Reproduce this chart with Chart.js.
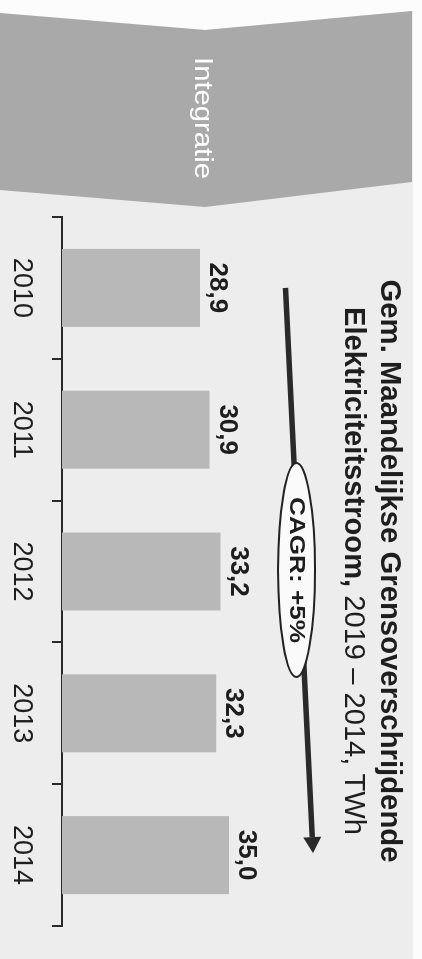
<!DOCTYPE html>
<html>
<head>
<meta charset="utf-8">
<script src="https://cdn.jsdelivr.net/npm/chart.js@4.4.0/dist/chart.umd.min.js"></script>
<style>
html, body { margin: 0; padding: 0; background: #fcfcfc; overflow: hidden; }
/* the chart is built lying down (959x422) and turned a quarter clockwise */
#wrap { position: absolute; left: 0; top: 0; width: 959px; height: 422px;
        transform-origin: 0 0; transform: translate(422px, 0) rotate(90deg); }
</style>
</head>
<body>
<div id="wrap"><canvas id="grens"></canvas></div>
<script>
var years = ['2010', '2011', '2012', '2013', '2014'];
var values = [28.9, 30.9, 33.2, 32.3, 35.0];
var valueLabels = ['28,9', '30,9', '33,2', '32,3', '35,0'];
var titleLine1 = 'Gem. Maandelijkse Grensoverschrijdende';
var titleLine2Bold = 'Elektriciteitsstroom,';
var titleLine2Rest = ' 2019 \u2013 2014, TWh';
var cagrText = 'CAGR: +5%';
var bannerText = 'Integratie';

var FONT = '"Liberation Sans", Arial, sans-serif';
Chart.defaults.font.family = FONT;

function fitText(ctx, text, cx, baseY, font, width, color) {
    ctx.save();
    ctx.font = font;
    var w = ctx.measureText(text).width;
    ctx.translate(cx, baseY);
    ctx.scale(width / w, 1);
    ctx.fillStyle = color;
    ctx.textAlign = 'center';
    ctx.textBaseline = 'alphabetic';
    ctx.fillText(text, 0, 0);
    ctx.restore();
}

var backdrop = {
    id: 'backdrop',
    beforeDraw: function(chart) {
        var c = chart.ctx;
        c.save();
        c.fillStyle = '#fcfcfc';
        c.fillRect(0, 0, chart.width, chart.height);
        // grey page
        c.fillStyle = '#ededed';
        c.beginPath();
        c.moveTo(13, 422); c.lineTo(30, 217); c.lineTo(11, 9);
        c.lineTo(959, 9); c.lineTo(959, 422); c.closePath();
        c.fill();
        // chevron banner
        c.fillStyle = '#a9a9a9';
        c.beginPath();
        c.moveTo(13, 422); c.lineTo(30, 217); c.lineTo(11, 10);
        c.lineTo(182, 10); c.lineTo(207, 217); c.lineTo(190, 422); c.closePath();
        c.fill();
        c.restore();
        fitText(c, bannerText, 118, 227, '25px ' + FONT, 122, '#ffffff');
    }
};

var extras = {
    id: 'extras',
    afterDatasetsDraw: function(chart) {
        var c = chart.ctx;
        var meta = chart.getDatasetMeta(0);
        c.save();
        c.font = 'bold 26px ' + FONT;
        c.fillStyle = '#1e1e1e';
        c.textAlign = 'center';
        c.textBaseline = 'alphabetic';
        meta.data.forEach(function(bar, i) {
            c.fillText(valueLabels[i], bar.x, bar.y - 10);
        });
        c.restore();
    },
    afterDraw: function(chart) {
        var c = chart.ctx;
        var xs = chart.scales.x;
        // title, two lines
        fitText(c, titleLine1, 571, 41, 'bold 29px ' + FONT, 583, '#1e1e1e');
        c.save();
        c.font = 'bold 29px ' + FONT;
        var w1 = c.measureText(titleLine2Bold).width;
        c.font = '29px ' + FONT;
        var w2 = c.measureText(titleLine2Rest).width;
        var k = 528 / (w1 + w2);
        c.translate(571 - 264, 77);
        c.scale(k, 1);
        c.fillStyle = '#1e1e1e';
        c.textAlign = 'left';
        c.textBaseline = 'alphabetic';
        c.font = 'bold 29px ' + FONT;
        c.fillText(titleLine2Bold, 0, 0);
        c.font = '29px ' + FONT;
        c.fillText(titleLine2Rest, w1, 0);
        c.restore();

        // CAGR arrow from first to last year
        var x0 = xs.getPixelForValue(0), x1 = xs.getPixelForValue(years.length - 1) - 2;
        var y0 = 136.5, y1 = 109;
        var ang = Math.atan2(y1 - y0, x1 - x0);
        var head = 16;
        c.save();
        c.strokeStyle = '#2a2a2a';
        c.fillStyle = '#2a2a2a';
        c.lineWidth = 5.5;
        c.beginPath();
        c.moveTo(x0, y0);
        c.lineTo(x1 - head * Math.cos(ang), y1 - head * Math.sin(ang));
        c.stroke();
        c.beginPath();
        c.moveTo(x1, y1);
        c.lineTo(x1 - head * Math.cos(ang) - 9 * Math.sin(ang), y1 - head * Math.sin(ang) + 9 * Math.cos(ang));
        c.lineTo(x1 - head * Math.cos(ang) + 9 * Math.sin(ang), y1 - head * Math.sin(ang) - 9 * Math.cos(ang));
        c.closePath();
        c.fill();
        // ellipse
        c.beginPath();
        c.ellipse(570, 125.5, 107, 18.5, 0, 0, Math.PI * 2);
        c.fillStyle = '#fafafa';
        c.fill();
        c.lineWidth = 2;
        c.strokeStyle = '#222222';
        c.stroke();
        c.restore();
        fitText(c, cagrText, 570, 131.5, 'bold 22px ' + FONT, 146, '#1e1e1e');
    }
};

var ctx = document.getElementById('grens');
var chartData = {
    labels: years,
    datasets: [{
        label: '',
        data: values,
        backgroundColor: '#b8b8b8',
        borderWidth: 0,
        categoryPercentage: 1,
        barPercentage: 0.55
    }]
};
var chartOptions = {
    responsive: true,
    maintainAspectRatio: false,
    animation: false,
    events: [],
    layout: { padding: { left: 217, right: 33, top: 169, bottom: 0 } },
    plugins: { legend: { display: false }, tooltip: { enabled: false } },
    scales: {
        x: {
            afterFit: function(scale) { scale.height = 62; },
            grid: { display: true, drawOnChartArea: false, drawTicks: true, tickLength: 10,
                    color: '#2a2a2a', lineWidth: 2, offset: true },
            border: { display: true, color: '#2a2a2a', width: 2 },
            ticks: { color: '#1e1e1e', font: { size: 27 }, padding: 14, maxRotation: 0 }
        },
        y: { display: false, min: 0, max: 40 }
    }
};
new Chart(ctx, { type: 'bar', data: chartData, options: chartOptions, plugins: [backdrop, extras] });
</script>
</body>
</html>
